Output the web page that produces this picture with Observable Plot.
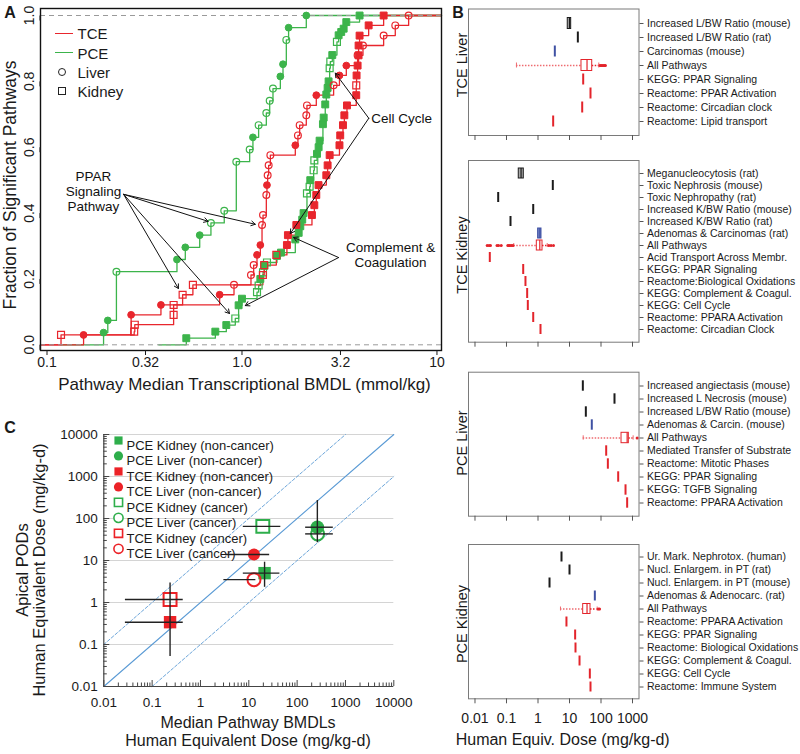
<!DOCTYPE html>
<html><head><meta charset="utf-8">
<script src="https://cdn.jsdelivr.net/npm/d3@7"></script>
<script src="https://cdn.jsdelivr.net/npm/@observablehq/plot@0.6"></script>
<style>
body{margin:0;background:#fff;}
#fig{position:relative;width:800px;height:754px;overflow:hidden;font-family:"Liberation Sans",Arial,sans-serif;color:#1a1a1a;background:#fff;}
</style></head><body><div id="fig"></div>
<script>
// ---------------- Panel A data (BMDL mmol/kg, cumulative fraction) ----------------
const pceLiverX = [0.195,0.205,0.227,0.464,0.512,0.607,0.693,0.811,0.935,1.095,1.138,1.217,1.333,1.387,1.442,1.573,1.623,1.688,1.734,2.137];
const pceLiverY = [0.037,0.074,0.222,0.259,0.296,0.333,0.370,0.407,0.556,0.593,0.630,0.667,0.704,0.741,0.778,0.815,0.852,0.926,0.963,1.0];
const pceLiverFilled = [1,1,0,1,1,1,0,0,0,0,1,0,0,0,0,1,1,0,1,1];

const pceKidneyX = [0.518,0.730,0.831,0.924,0.961,1.00,1.194,1.217,1.242,1.282,1.302,1.343,1.512,1.585,1.877,1.953,1.991,2.037,2.070,2.154,2.223,2.240,2.331,2.350,2.425,2.472,2.501,2.601,2.624,2.673,2.707,2.749,2.781,2.816,2.838,2.905,3.069,3.131,3.228,3.322,3.428,4.010];
const pceKidneyY = [0.02,0.04,0.06,0.08,0.12,0.14,0.16,0.18,0.20,0.22,0.24,0.25,0.27,0.28,0.32,0.34,0.36,0.38,0.40,0.46,0.48,0.50,0.53,0.56,0.58,0.60,0.62,0.67,0.69,0.73,0.76,0.78,0.80,0.84,0.86,0.88,0.92,0.94,0.95,0.96,0.98,1.0];
const pceKidneyFilled = [1,1,1,0,1,1,0,0,1,0,1,0,1,1,1,1,1,1,1,0,0,1,0,0,1,1,1,1,1,1,1,1,1,0,0,1,0,1,1,1,1,1];

const tceLiverX = [0.154,0.270,0.384,0.768,0.91,1.112,1.148,1.194,1.242,1.267,1.282,1.333,1.343,1.354,1.370,1.398,1.877,1.936,1.976,2.137,2.154,2.405,2.951,3.162,3.428,3.917,4.174,5.327,6.112,7.157];
const tceLiverY = [0.030,0.091,0.121,0.152,0.182,0.212,0.242,0.273,0.303,0.364,0.394,0.455,0.485,0.515,0.545,0.576,0.606,0.636,0.667,0.697,0.727,0.758,0.788,0.818,0.848,0.879,0.909,0.939,0.970,1.0];
const tceLiverFilled = [1,1,1,1,0,0,0,1,1,0,0,0,1,0,0,0,1,0,0,0,0,1,0,1,1,0,0,0,0,0];

const tceKidneyX = [0.118,0.280,0.282,0.446,0.446,0.496,0.56,1.28,1.30,1.50,1.70,1.72,1.90,2.285,2.35,2.405,2.47,2.707,2.749,2.816,3.162,3.19,3.296,3.35,3.455,3.855,3.855,3.87,3.917,3.963,3.963,4.01,4.463,5.327];
const tceKidneyY = [0.030,0.040,0.061,0.091,0.121,0.152,0.182,0.212,0.242,0.273,0.303,0.333,0.364,0.394,0.424,0.455,0.485,0.515,0.545,0.576,0.606,0.636,0.667,0.697,0.727,0.758,0.788,0.818,0.848,0.879,0.909,0.939,0.970,1.0];
const tceKidneyFilled = [0,0,0,0,0,0,0,0,0,0,1,1,1,1,1,1,1,1,1,1,1,1,1,1,1,1,0,1,1,1,1,1,1,1];

const seriesStart = [0.118, 0.374, 0.0926, 0.0926];
const aXTicks = [0.1, 0.32, 1, 3.2, 10];
const aXLabels = ["0.1", "0.32", "1.0", "3.2", "10"];
const aYTicks = [0, 0.2, 0.4, 0.6, 0.8, 1.0];

// annotation arrows (data units)
const arrX1 = [0.247,0.247,0.247,0.247,4.47,4.47,3.13,3.13];
const arrY1 = [0.457,0.457,0.457,0.457,0.688,0.688,0.265,0.265];
const arrX2 = [0.67,1.17,0.472,0.863,3.01,1.77,1.84,1.04];
const arrY2 = [0.375,0.366,0.171,0.095,0.825,0.338,0.326,0.119];
const annoText = ["PPAR\nSignaling\nPathway", "Cell Cycle", "Complement &\nCoagulation"];
const annoX = [0.173, 4.6, 5.78];
const annoY = [0.466, 0.688, 0.273];

// ---------------- Panel C data ----------------
const cNames = ["PCE Kidney (non-cancer)","PCE Liver (non-cancer)","TCE Kidney (non-cancer)","TCE Liver (non-cancer)","PCE Kidney (cancer)","PCE Liver (cancer)","TCE Kidney (cancer)","TCE Liver (cancer)"];
const cChem = ["PCE","PCE","TCE","TCE","PCE","PCE","TCE","TCE"];
const cSymbol = ["square","circle","square","circle","square","circle","square","circle"];
const cFilled = [1,1,1,1,0,0,0,0];
const cBmdl = [21.2, 262, 0.235, 12.8, 19.5, 265, 0.235, 12.8];
const cPod  = [5.0, 62, 0.34, 13.9, 65, 43, 1.18, 3.5];
const cXLo  = [7.7, 150, 0.028, 3.3, 7.7, 150, 0.028, 3.05];
const cXHi  = [44, 561, 0.44, 27, 46, 561, 0.44, 14];
const cYLo  = [2.3, 26.5, 0.052, null, null, null, null, null];
const cYHi  = [9.1, 268, 2.9, null, null, null, null, null];
const cTicks = [0.01, 0.1, 1, 10, 100, 1000, 10000];
const cTickLabels = ["0.01","0.1","1","10","100","1000","10000"];
const refRatio = [1, 10, 0.1];

// ---------------- Panel B data (human equivalent dose, mg/kg-d) ----------------
const bTicks = [0.01, 0.1, 1, 10, 100, 1000];
const bTickLabels = ["0.01","0.1","1","10","100","1000"];

const tceLiverRows = ["Increased L/BW Ratio (mouse)","Increased L/BW Ratio (rat)","Carcinomas (mouse)","All Pathways","KEGG: PPAR Signaling","Reactome: PPAR Activation","Reactome: Circadian clock","Reactome: Lipid transport"];
const tceLiverKind = ["apical","apical","cancer","all","path","path","path","path"];
const tceLiverDose = [null, 18.4, 3.42, null, 27.2, 46.4, 25.3, 3.03];
const tceLiverBoxes = [{row:0, q1:8.8, med:10, q3:11.3, kind:"apical"}, {row:3, lo:0.207, q1:24, med:36, q3:52.6, hi:85, kind:"all"}];
const tceLiverOut = [92, 100, 108, 118, 128, 138];

const tceKidneyRows = ["Meganucleocytosis (rat)","Toxic Nephrosis (mouse)","Toxic Nephropathy (rat)","Increased K/BW Ratio (mouse)","Increased K/BW Ratio (rat)","Adenomas & Carcinomas (rat)","All Pathways","Acid Transport Across Membr.","KEGG: PPAR Signaling","Reactome:Biological Oxidations","KEGG: Complement & Coagul.","KEGG: Cell Cycle","Reactome: PPARA Activation","Reactome: Circadian Clock"];
const tceKidneyKind = ["apical","apical","apical","apical","apical","cancer","all","path","path","path","path","path","path","path"];
const tceKidneyDose = [null, 2.95, 0.0545, 0.705, 0.134, null, null, 0.0295, 0.339, 0.40, 0.453, 0.475, 0.705, 1.2];
const tceKidneyBoxes = [{row:0, q1:0.245, med:0.29, q3:0.354, kind:"apical"}, {row:5, q1:1.01, med:1.15, q3:1.29, kind:"cancer"}, {row:6, lo:0.17, q1:0.917, med:1.14, q3:1.39, hi:1.96, kind:"all"}];
const tceKidneyOut = [0.0244,0.028,0.031,0.05,0.056,0.068,0.11,0.12,0.13,0.145,0.16,2.2,2.6,3.1];

const pceLiverRows = ["Increased angiectasis (mouse)","Increased L Necrosis (mouse)","Increased L/BW Ratio (mouse)","Adenomas & Carcin. (mouse)","All Pathways","Mediated Transfer of Substrate","Reactome: Mitotic Phases","KEGG: PPAR Signaling","KEGG: TGFB Signaling","Reactome: PPARA Activation"];
const pceLiverKind = ["apical","apical","apical","cancer","all","path","path","path","path","path"];
const pceLiverDose = [26.5, 268, 33, 51, null, 146, 165, 351, 600, 676];
const pceLiverBoxes = [{row:4, lo:27.2, q1:448, med:676, q3:764, hi:1047, kind:"all"}];
const pceLiverOut = [1400];

const pceKidneyRows = ["Ur. Mark. Nephrotox. (human)","Nucl. Enlargem. in PT (rat)","Nucl. Enlargem. in PT (mouse)","Adenomas & Adenocarc. (rat)","All Pathways","Reactome: PPARA Activation","KEGG: PPAR Signaling","Reactome: Biological Oxidations","KEGG: Complement & Coagul.","KEGG: Cell Cycle","Reactome: Immune System"];
const pceKidneyKind = ["apical","apical","apical","cancer","all","path","path","path","path","path","path"];
const pceKidneyDose = [5.57, 10, 2.32, 63.7, null, 8.0, 15.1, 15.5, 20.8, 44.2, 46.4];
const pceKidneyBoxes = [{row:4, lo:5.17, q1:27.2, med:36, q3:46.4, hi:75.5, kind:"all"}];
const pceKidneyOut = [82, 90];

// ---------------- helpers ----------------
const fig = document.getElementById("fig");
const FONT = "'Liberation Sans', Arial, sans-serif";
const baseStyle = {fontFamily: FONT, fontSize: "14px", color: "#1a1a1a", background: "none", overflow: "visible"};
function place(el, left, top) { el.style.position = "absolute"; el.style.left = left + "px"; el.style.top = top + "px"; fig.appendChild(el); }
function txt(s, x, y, o = {}) {
  const d = document.createElement("div");
  d.textContent = s;
  const tx = o.anchor === "start" ? "0" : "-50%";
  d.style.cssText = `position:absolute;left:${x}px;top:${y}px;white-space:nowrap;line-height:1;font-size:${o.size || 14}px;font-weight:${o.weight || "normal"};color:#1a1a1a;transform:translate(${tx},-50%) rotate(${o.rotate || 0}deg);transform-origin:${o.anchor === "start" ? "0 50%" : "50% 50%"};`;
  fig.appendChild(d);
}
function box(css) { const d = document.createElement("div"); d.style.cssText = "position:absolute;" + css; fig.appendChild(d); }

// ---------------- Panel A ----------------
const G = "#3cb44b", R = "#e8262d";
const AXdom = [0.0926, 10.55], AYdom = [-0.0173, 1.0213];
const seriesA = [
  {x: pceLiverX, y: pceLiverY, f: pceLiverFilled, c: G, s: "circle", start: seriesStart[0]},
  {x: pceKidneyX, y: pceKidneyY, f: pceKidneyFilled, c: G, s: "square", start: seriesStart[1]},
  {x: tceLiverX, y: tceLiverY, f: tceLiverFilled, c: R, s: "circle", start: seriesStart[2]},
  {x: tceKidneyX, y: tceKidneyY, f: tceKidneyFilled, c: R, s: "square", start: seriesStart[3]}
];
const aMarks = [];
seriesA.forEach(s => {
  const pts = s.x.map((x, i) => ({x, y: s.y[i], f: s.f[i]}));
  aMarks.push(Plot.line([{x: s.start, y: 0}, ...pts, {x: AXdom[1], y: 1}], {x: "x", y: "y", curve: "step-after", stroke: s.c, strokeWidth: 1.3}));
  s.pts = pts;
});
aMarks.push(Plot.ruleY([0, 1], {stroke: "#9a9a9a", strokeDasharray: "5,4", strokeWidth: 1}));
seriesA.forEach(s => {
  const r = s.s === "square" ? 3.9 : 3.4;
  aMarks.push(Plot.dot(s.pts.filter(d => !d.f), {x: "x", y: "y", symbol: s.s, r, stroke: s.c, fill: "none", strokeWidth: 1.2}));
  aMarks.push(Plot.dot(s.pts.filter(d => d.f), {x: "x", y: "y", symbol: s.s, r, stroke: s.c, fill: s.c, strokeWidth: 1}));
});
const arrows = arrX1.map((x1, i) => ({x1, y1: arrY1[i], x2: arrX2[i], y2: arrY2[i]}));
aMarks.push(Plot.arrow(arrows, {x1: "x1", y1: "y1", x2: "x2", y2: "y2", stroke: "#111", strokeWidth: 1, headLength: 7}));
[0, 1, 2].forEach(i => {
  aMarks.push(Plot.text([annoText[i]], {x: annoX[i], y: annoY[i], text: d => d, textAnchor: i === 1 ? "start" : "middle", fontSize: 13.5, lineHeight: 1.08, fill: "#111"}));
});
aMarks.push(Plot.frame({stroke: "#111", strokeWidth: 1.4}));
aMarks.push(Plot.axisX({ticks: aXTicks, tickFormat: d => aXLabels[aXTicks.indexOf(d)], tickSize: 5, tickPadding: 2, fontSize: 14, label: null}));
aMarks.push(Plot.axisY({ticks: aYTicks, tickFormat: d => d.toFixed(1), tickSize: 5, tickPadding: 6, rotate: -90, textAnchor: "middle", fontSize: 14, label: null}));

const plotA = Plot.plot({
  width: 450, height: 395, marginLeft: 40, marginRight: 9, marginTop: 8, marginBottom: 45,
  x: {type: "log", domain: AXdom, label: null}, y: {domain: AYdom, label: null},
  style: baseStyle, marks: aMarks
});
place(plotA, 0, 0);

// legend A
box(`left:55px;top:32.6px;width:18px;height:0;border-top:1.5px solid ${R};`);
box(`left:55px;top:52px;width:18px;height:0;border-top:1.5px solid ${G};`);
box(`left:58px;top:68px;width:6px;height:6px;border:1.2px solid #222;border-radius:50%;`);
box(`left:58px;top:87px;width:6px;height:6px;border:1.2px solid #222;`);
txt("TCE", 77.5, 33.3, {anchor: "start", size: 15});
txt("PCE", 77.5, 52.7, {anchor: "start", size: 15});
txt("Liver", 77.5, 71.7, {anchor: "start", size: 15});
txt("Kidney", 77.5, 90.7, {anchor: "start", size: 15});
txt("Fraction of Significant Pathways", 11, 184.5, {rotate: -90, size: 17.5});
txt("Pathway Median Transcriptional BMDL (mmol/kg)", 244.5, 384, {size: 17});

// ---------------- Panel C ----------------
const G2 = "#2eae4b", R2 = "#ec2227";
const ptsC = cNames.map((n, i) => ({name: n, c: cChem[i] === "PCE" ? G2 : R2, s: cSymbol[i], f: cFilled[i], x: cBmdl[i], y: cPod[i], xLo: cXLo[i], xHi: cXHi[i], yLo: cYLo[i], yHi: cYHi[i]}));
const minorC = d3.range(-2, 4).flatMap(e => d3.range(2, 10).map(k => k * Math.pow(10, e)));
const cMarks = [
  Plot.ruleY(cTicks.slice(1), {stroke: "#d4d4d4", strokeWidth: 1})
];
refRatio.forEach(r => {
  const x0 = Math.max(0.01, 0.01 / r), x1 = Math.min(10000, 10000 / r);
  cMarks.push(Plot.line([{x: x0, y: x0 * r}, {x: x1, y: x1 * r}], {x: "x", y: "y", stroke: "#5b9bd5", strokeWidth: r === 1 ? 1.1 : 0.9, strokeDasharray: r === 1 ? null : "3,2"}));
});
// legend inside C
ptsC.forEach((d, i) => {
  const dy = 6 + 15.47 * i;
  cMarks.push(Plot.dot([d], {frameAnchor: "top-left", dx: 14.7, dy, symbol: d.s, r: 4.6, fill: d.f ? d.c : "white", stroke: d.c, strokeWidth: d.f ? 0 : 1.6}));
  cMarks.push(Plot.text([d.name], {frameAnchor: "top-left", dx: 22.7, dy, text: t => t, textAnchor: "start", fontSize: 13, fill: "#1a1a1a"}));
});
ptsC.filter(d => d.f).forEach(d => cMarks.push(Plot.dot([d], {x: "x", y: "y", symbol: d.s, r: d.s === "square" ? 7 : (d.c === R2 ? 6 : 6.8), fill: d.c})));
ptsC.filter(d => !d.f).forEach(d => cMarks.push(Plot.dot([d], {x: "x", y: "y", symbol: d.s, r: d.s === "square" ? 7.3 : 6.5, fill: "none", stroke: d.c, strokeWidth: 2})));
cMarks.push(Plot.ruleY(ptsC, {y: "y", x1: "xLo", x2: "xHi", stroke: "#222", strokeWidth: 1.4}));
cMarks.push(Plot.ruleX(ptsC.filter(d => d.yLo != null), {x: "x", y1: "yLo", y2: "yHi", stroke: "#222", strokeWidth: 1.4}));
cMarks.push(Plot.ruleX([0.01], {stroke: "#444", strokeWidth: 1.2}));
cMarks.push(Plot.ruleY([0.01], {stroke: "#444", strokeWidth: 1.2}));
cMarks.push(Plot.axisX({ticks: minorC, tickSize: -3.5, tickFormat: () => "", label: null, stroke: "#444"}));
cMarks.push(Plot.axisX({ticks: cTicks, tickSize: -6, tickFormat: () => "", label: null, stroke: "#444"}));
cMarks.push(Plot.axisX({ticks: cTicks, tickSize: 0, tickPadding: 11, tickFormat: d => cTickLabels[cTicks.indexOf(d)], fontSize: 13.5, label: null}));
cMarks.push(Plot.axisY({ticks: minorC, tickSize: -3.5, tickFormat: () => "", label: null, stroke: "#444"}));
cMarks.push(Plot.axisY({ticks: cTicks, tickSize: -6, tickFormat: () => "", label: null, stroke: "#444"}));
cMarks.push(Plot.axisY({ticks: cTicks, tickSize: 0, tickPadding: 6, tickFormat: d => cTickLabels[cTicks.indexOf(d)], fontSize: 13.5, label: null}));

const plotC = Plot.plot({
  width: 450, height: 334, marginLeft: 103.3, marginRight: 56.7, marginTop: 14, marginBottom: 68,
  x: {type: "log", domain: [0.01, 10000], label: null}, y: {type: "log", domain: [0.01, 10000], label: null},
  style: baseStyle, marks: cMarks
});
place(plotC, 0, 420);
txt("Apical PODs", 22, 570, {rotate: -90, size: 16.5});
txt("Human Equivalent Dose (mg/kg-d)", 39, 570, {rotate: -90, size: 16.5});
txt("Median Pathway BMDLs", 248, 723, {size: 16});
txt("Human Equivalent Dose (mg/kg-d)", 248, 741, {size: 16});

// ---------------- Panel B ----------------
const colB = {apical: "#1b1b1b", cancer: "#3f51a3", path: "#e3242b", all: "#e3242b"};
const fillB = {apical: "#a8a8a8", cancer: "#6c7cc2", all: "#ffffff"};
function drawB(rows, kind, dose, boxes, out, cfg) {
  const ticks = rows.map((r, i) => ({row: r, dose: dose[i], kind: kind[i]})).filter(d => d.dose != null);
  const bx = boxes.map(b => ({...b, label: rows[b.row]}));
  const wh = bx.filter(b => b.lo != null);
  const caps = wh.flatMap(b => [{label: b.label, x: b.lo}, {label: b.label, x: b.hi}]);
  const outs = out.map(x => ({label: "All Pathways", x}));
  const ins = cfg.inset;
  const marks = [
    Plot.frame({stroke: "#7a7a7a", strokeWidth: 1}),
    Plot.tickX(ticks, {x: "dose", y: "row", stroke: d => colB[d.kind], strokeWidth: 2, insetTop: ins, insetBottom: ins}),
    Plot.ruleY(wh, {y: "label", x1: "lo", x2: "q1", stroke: "#ee6b70", strokeWidth: 1.3, strokeDasharray: "1.5,1.5"}),
    Plot.ruleY(wh, {y: "label", x1: "q3", x2: "hi", stroke: "#e3242b", strokeWidth: 1.3, strokeDasharray: "1.5,1.5"}),
    Plot.tickX(caps, {x: "x", y: "label", stroke: "#ee6b70", strokeWidth: 1, insetTop: ins + 3, insetBottom: ins + 3}),
    Plot.dot(outs, {x: "x", y: "label", r: 1.5, fill: "#e3242b"}),
    Plot.barX(bx, {y: "label", x1: "q1", x2: "q3", fill: d => fillB[d.kind], stroke: d => colB[d.kind], strokeWidth: 1, insetTop: ins, insetBottom: ins}),
    Plot.tickX(bx, {x: "med", y: "label", stroke: d => colB[d.kind], strokeWidth: 1.2, insetTop: ins, insetBottom: ins}),
    Plot.axisY({anchor: "right", tickSize: 4, tickPadding: 4, fontSize: 10.5, label: null, stroke: "#555"}),
    Plot.axisX({ticks: bTicks, tickSize: 5, tickPadding: 9, fontSize: 14, label: null, stroke: "#555",
      tickFormat: cfg.labels ? (d => bTickLabels[bTicks.indexOf(d)]) : (() => "")})
  ];
  const p = Plot.plot({
    width: 350, height: cfg.height, marginLeft: 18, marginRight: 161.5, marginTop: cfg.mt, marginBottom: cfg.mb,
    x: {type: "log", domain: [0.00622, 1607], label: null},
    y: {type: "band", domain: rows, paddingInner: 0, paddingOuter: cfg.po, label: null},
    style: baseStyle, marks
  });
  place(p, 450, cfg.top);
}
drawB(tceLiverRows, tceLiverKind, tceLiverDose, tceLiverBoxes, tceLiverOut, {top: 0, height: 150, mt: 8.5, mb: 15, po: 0.3, inset: 1.5});
drawB(tceKidneyRows, tceKidneyKind, tceKidneyDose, tceKidneyBoxes, tceKidneyOut, {top: 150, height: 205, mt: 10, mb: 13.3, po: 0.5, inset: 1});
drawB(pceLiverRows, pceLiverKind, pceLiverDose, pceLiverBoxes, pceLiverOut, {top: 360, height: 170, mt: 11.7, mb: 14.3, po: 0.37, inset: 1.3});
drawB(pceKidneyRows, pceKidneyKind, pceKidneyDose, pceKidneyBoxes, pceKidneyOut, {top: 534, height: 220, mt: 10, mb: 55.7, po: 0.4, inset: 1.5, labels: true});
txt("TCE Liver", 461.5, 65, {rotate: -90, size: 14.5});
txt("TCE Kidney", 461.5, 255, {rotate: -90, size: 14.5});
txt("PCE Liver", 461.5, 443, {rotate: -90, size: 14.5});
txt("PCE Kidney", 461.5, 624, {rotate: -90, size: 14.5});
txt("Human Equiv. Dose (mg/kg-d)", 562.7, 740, {size: 16});

// panel letters
txt("A", 10, 13, {size: 16, weight: "bold"});
txt("B", 458, 13, {size: 16, weight: "bold"});
txt("C", 10, 428, {size: 16, weight: "bold"});
</script></body></html>
